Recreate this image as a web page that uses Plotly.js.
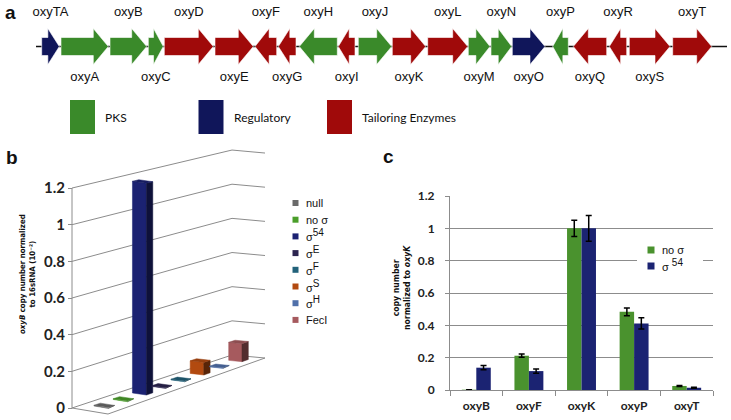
<!DOCTYPE html>
<html><head><meta charset="utf-8">
<script src="https://cdn.plot.ly/plotly-3.0.1.min.js"></script>
<style>html,body{margin:0;padding:0;background:#fff}#chart{width:731px;height:420px}</style>
</head><body><div id="chart"></div>
<script>
// ---------- Panel a data: oxy gene cluster (positions along the cluster) ----------
const geneNames = ['oxyTA','oxyA','oxyB','oxyC','oxyD','oxyE','oxyF','oxyG','oxyH','oxyI','oxyJ','oxyK','oxyL','oxyM','oxyN','oxyO','oxyP','oxyQ','oxyR','oxyS','oxyT'];
const geneStart = [41.7, 61, 110, 148.3, 164.3, 215, 255, 278.3, 299.3, 338.3, 358.3, 392.3, 427.7, 468.3, 491, 512.3, 552.7, 573.3, 609.3, 629.3, 672.7];
const geneEnd   = [59.3, 108.3, 146.7, 163.3, 213.3, 253.3, 276.7, 296, 337.3, 355, 391.7, 425.7, 467.7, 490, 511.7, 545, 568.3, 606.7, 626.7, 670, 711.7];
const geneStrand = [1,1,1,1,1,1,-1,-1,-1,-1,1,1,1,1,1,1,-1,-1,-1,1,1];
const geneClass = ['Regulatory','PKS','PKS','PKS','Tailoring Enzymes','Tailoring Enzymes','Tailoring Enzymes','Tailoring Enzymes','PKS','Tailoring Enzymes','PKS','Tailoring Enzymes','Tailoring Enzymes','PKS','PKS','Regulatory','PKS','Tailoring Enzymes','Tailoring Enzymes','Tailoring Enzymes','Tailoring Enzymes'];
const classNames = ['PKS','Regulatory','Tailoring Enzymes'];
const clusterSpan = [36, 727];

// ---------- Panel b data ----------
const sigmaLabels = ['null','no σ','σ<sup><span style="font-size:10px">54</span></sup>','σ<sup><span style="font-size:10px">E</span></sup>','σ<sup><span style="font-size:10px">F</span></sup>','σ<sup><span style="font-size:10px">S</span></sup>','σ<sup><span style="font-size:10px">H</span></sup>','FecI'];
const oxyBCopy = [0.004, 0.004, 1.18, 0.004, 0.004, 0.072, 0.004, 0.105];
const bTicks = [0, 0.2, 0.4, 0.6, 0.8, 1, 1.2];

// ---------- Panel c data ----------
const genesC = ['oxyB','oxyF','oxyK','oxyP','oxyT'];
const noSigma = [0.002, 0.212, 1.0, 0.484, 0.025];
const noSigmaErr = [0, 0.01, 0.05, 0.024, 0.003];
const sigma54 = [0.138, 0.117, 1.0, 0.412, 0.014];
const sigma54Err = [0.013, 0.013, 0.08, 0.035, 0.003];
const cSeriesLabels = ['no σ', 'σ <sup><span style="font-size:10px">54</span></sup>'];

// ---------- styles ----------
const W = 731, H = 420;
const classColors = {'PKS':'#3a8a2a','Regulatory':'#10165a','Tailoring Enzymes':'#a00a0a'};
const sigmaColors = ['#6a6a6a','#4a9e2a','#1b2272','#2c2450','#22627a','#b24a10','#5070aa','#a65a5e'];
const cGreen = '#4a922e', cNavy = '#1b2372';
const ARIAL = 'Liberation Sans, Arial, sans-serif';
const CAL = 'Lato, Carlito, Calibri, sans-serif';
const COND = 'DejaVu Sans Condensed, DejaVu Sans, sans-serif';

function shade(hex, f){
  const n = parseInt(hex.slice(1),16);
  const r=(n>>16)&255,g=(n>>8)&255,b=n&255;
  const c = v => Math.max(0,Math.min(255,Math.round(v*f)));
  return 'rgb('+c(r)+','+c(g)+','+c(b)+')';
}

const traces = [];
// ---------- Panel a ----------
const yc = 46.5, bodyH = 9, headH = 18;
function arrow(s, e, strand){
  const len = e - s, h = Math.min(15, 0.65*len);
  if (strand > 0) return [[s,yc-bodyH],[e-h,yc-bodyH],[e-h,yc-headH],[e,yc],[e-h,yc+headH],[e-h,yc+bodyH],[s,yc+bodyH],[s,yc-bodyH]];
  return [[e,yc-bodyH],[s+h,yc-bodyH],[s+h,yc-headH],[s,yc],[s+h,yc+headH],[s+h,yc+bodyH],[e,yc+bodyH],[e,yc-bodyH]];
}
traces.push({type:'scatter',mode:'lines',x:clusterSpan,y:[yc,yc],xaxis:'x',yaxis:'y',
  line:{color:'#111',width:1.3},hoverinfo:'skip',showlegend:false});
classNames.forEach(c=>{
  const xs=[],ys=[];
  geneNames.forEach((g,i)=>{
    if(geneClass[i]!==c) return;
    arrow(geneStart[i],geneEnd[i],geneStrand[i]).forEach(p=>{xs.push(p[0]);ys.push(p[1]);});
    xs.push(null);ys.push(null);
  });
  traces.push({type:'scatter',mode:'lines',fill:'toself',fillcolor:classColors[c],x:xs,y:ys,xaxis:'x',yaxis:'y',
    line:{color:'#ffffff',width:0.6},hoverinfo:'skip',showlegend:false});
});
traces.push({type:'scatter',mode:'text',xaxis:'x',yaxis:'y',
  x:geneNames.map((g,i)=>(geneStart[i]+geneEnd[i])/2),
  y:geneNames.map((g,i)=> i%2===0 ? 13 : 78),
  text:geneNames,textfont:{family:ARIAL,size:13,color:'#111'},hoverinfo:'skip',showlegend:false,cliponaxis:false});

// ---------- Panel b: projected 3D column chart ----------
const B = {bx0:72,by0:408,bx1:232,by1:355,fx0:108,fy0:414,fx1:265,fy1:358,s0:183.3,s1:170.8};
function projB(t,d,v){
  const bx=B.bx0+(B.bx1-B.bx0)*t, by=B.by0+(B.by1-B.by0)*t;
  const fx=B.fx0+(B.fx1-B.fx0)*t, fy=B.fy0+(B.fy1-B.fy0)*t;
  const x=bx+(fx-bx)*d;
  const ypx=by+(fy-by)*d - v*(B.s0+(B.s1-B.s0)*t);
  return [x,(B.by0-ypx)/B.s0];
}
function polyTrace(pts, color, lineColor, width){
  return {type:'scatter',mode:'lines',xaxis:'x2',yaxis:'y2',x:pts.map(p=>p?p[0]:null),y:pts.map(p=>p?p[1]:null),
    line:{color:lineColor,width:width},hoverinfo:'skip',showlegend:false,
    fill: color ? 'toself' : 'none', fillcolor: color || undefined};
}
const gridPts=[];
bTicks.forEach(v=>{gridPts.push(projB(0,0,v),projB(1,0,v),projB(1,1,v),null);});
gridPts.push(projB(0,0,0),projB(0,1,0),projB(1,1,0),null);
traces.push(polyTrace(gridPts,null,'#8c8c8c',1));
traces.push(polyTrace([projB(0,0,0),projB(0,0,bTicks[bTicks.length-1])],null,'#8c8c8c',1));

const t0 = 0.09, tStep = 0.121, ha = 0.02, d0 = 0.3, d1 = 0.7;
oxyBCopy.forEach((v,i)=>{
  const t = t0 + tStep*i, base = sigmaColors[i];
  const left=[projB(t-ha,d0,0),projB(t-ha,d1,0),projB(t-ha,d1,v),projB(t-ha,d0,v),projB(t-ha,d0,0)];
  const front=[projB(t-ha,d1,0),projB(t+ha,d1,0),projB(t+ha,d1,v),projB(t-ha,d1,v),projB(t-ha,d1,0)];
  const top=[projB(t-ha,d0,v),projB(t-ha,d1,v),projB(t+ha,d1,v),projB(t+ha,d0,v),projB(t-ha,d0,v)];
  traces.push(polyTrace(left,base,base,0.5));
  traces.push(polyTrace(front,shade(base,0.5),shade(base,0.5),0.5));
  traces.push(polyTrace(top,shade(base,0.85),shade(base,0.85),0.5));
});

// ---------- Panel c ----------
traces.push({type:'bar',name:'no σ',x:genesC,y:noSigma,xaxis:'x3',yaxis:'y3',marker:{color:cGreen,line:{width:0}},textposition:'none',
  error_y:{type:'data',array:noSigmaErr,visible:true,color:'#000',thickness:1.5,width:3},showlegend:false,hoverinfo:'skip'});
traces.push({type:'bar',name:'σ54',x:genesC,y:sigma54,xaxis:'x3',yaxis:'y3',marker:{color:cNavy,line:{width:0}},textposition:'none',
  error_y:{type:'data',array:sigma54Err,visible:true,color:'#000',thickness:1.5,width:3},showlegend:false,hoverinfo:'skip'});

// ---------- annotations & shapes ----------
const ann = [];
const shapes = [];
const A = (o)=>Object.assign({xref:'x',yref:'y',showarrow:false},o);
const R = (x0,x1,y0,y1,c)=>({type:'rect',xref:'x',yref:'y',x0:x0,x1:x1,y0:y0,y1:y1,fillcolor:c,line:{width:0},layer:'above'});
ann.push(A({x:3,y:12,text:'<b>a</b>',xanchor:'left',yanchor:'middle',font:{family:ARIAL,size:19,color:'#111'}}));
ann.push(A({x:4,y:157,text:'<b>b</b>',xanchor:'left',yanchor:'middle',font:{family:ARIAL,size:19,color:'#111'}}));
ann.push(A({x:381,y:156,text:'<b>c</b>',xanchor:'left',yanchor:'middle',font:{family:ARIAL,size:19,color:'#111'}}));
// panel a legend
classNames.forEach((c,i)=>{
  const x0 = 70 + i*128.5;
  shapes.push(R(x0,x0+25,100,134,classColors[c]));
  ann.push(A({x:x0+33,y:117,text:c,xanchor:'left',yanchor:'middle',font:{family:CAL,size:12,color:'#111'}}));
});
// panel b legend
sigmaLabels.forEach((s,i)=>{
  const y = 203 + i*16.7;
  shapes.push(R(292.5,298.5,y-3,y+3,sigmaColors[i]));
  ann.push(A({x:304,y:y+(s.indexOf('sup')>0?-1:0),text:s,xanchor:'left',yanchor:'middle',font:{family:ARIAL,size:11,color:'#111'}}));
});
// panel b axis title
ann.push(A({x:27,y:274,textangle:-90,xanchor:'center',yanchor:'middle',
  text:'<b><i>oxyB</i> copy number normalized<br>to 16sRNA (10⁻²)</b>',font:{family:COND,size:7.8,color:'#111'}}));
// panel c legend
shapes.push(R(637,703,242,274,'#ffffff'));
[cGreen,cNavy].forEach((col,i)=>{
  const y = 250 + i*16;
  shapes.push(R(647.5,654.5,y-3.5,y+3.5,col));
  ann.push(A({x:660,y:y+(i===1?-1:0),text:cSeriesLabels[i],xanchor:'left',yanchor:'middle',font:{family:ARIAL,size:11,color:'#111'}}));
});
ann.push(A({x:401,y:288,textangle:-90,xanchor:'center',yanchor:'middle',
  text:'<b>copy number<br>normalized to <i>oxyK</i></b>',font:{family:COND,size:8.6,color:'#111'}}));

const layout = {
  width:W,height:H,margin:{l:0,r:0,t:0,b:0},paper_bgcolor:'#fff',plot_bgcolor:'rgba(0,0,0,0)',
  showlegend:false,barmode:'group',bargap:0.45,bargroupgap:0,
  xaxis:{domain:[0,1],range:[0,W],visible:false,fixedrange:true},
  yaxis:{domain:[0,1],range:[H,0],visible:false,fixedrange:true},
  xaxis2:{domain:[0,370/W],range:[0,370],visible:false,anchor:'y2'},
  yaxis2:{domain:[0,280/H],range:[(B.by0-420)/B.s0,(B.by0-140)/B.s0],anchor:'free',position:B.bx0/W,
    tickmode:'array',tickvals:bTicks,ticktext:bTicks.map(String),ticks:'outside',ticklen:4,tickcolor:'#8c8c8c',
    showgrid:false,zeroline:false,showline:false,tickfont:{family:CAL,size:15,weight:700,color:'#222'}},
  xaxis3:{domain:[450/W,713/W],anchor:'y3',type:'category',tickson:'boundaries',ticks:'outside',ticklen:5,tickcolor:'#8c8c8c',
    showline:true,linecolor:'#8c8c8c',linewidth:1,showgrid:false,tickfont:{family:CAL,size:12,weight:700,color:'#222'},ticklabelstandoff:5},
  yaxis3:{domain:[30/H,224/H],anchor:'x3',range:[0,1.2001],tick0:0,dtick:0.2,showgrid:true,gridcolor:'#8c8c8c',gridwidth:1,
    showline:true,linecolor:'#8c8c8c',ticks:'outside',ticklen:4,tickcolor:'#8c8c8c',zeroline:false,
    tickfont:{family:CAL,size:12,weight:700,color:'#222'},ticklabelstandoff:8},
  annotations:ann,shapes:shapes
};
Plotly.newPlot('chart',traces,layout,{staticPlot:true,displayModeBar:false});
</script></body></html>
